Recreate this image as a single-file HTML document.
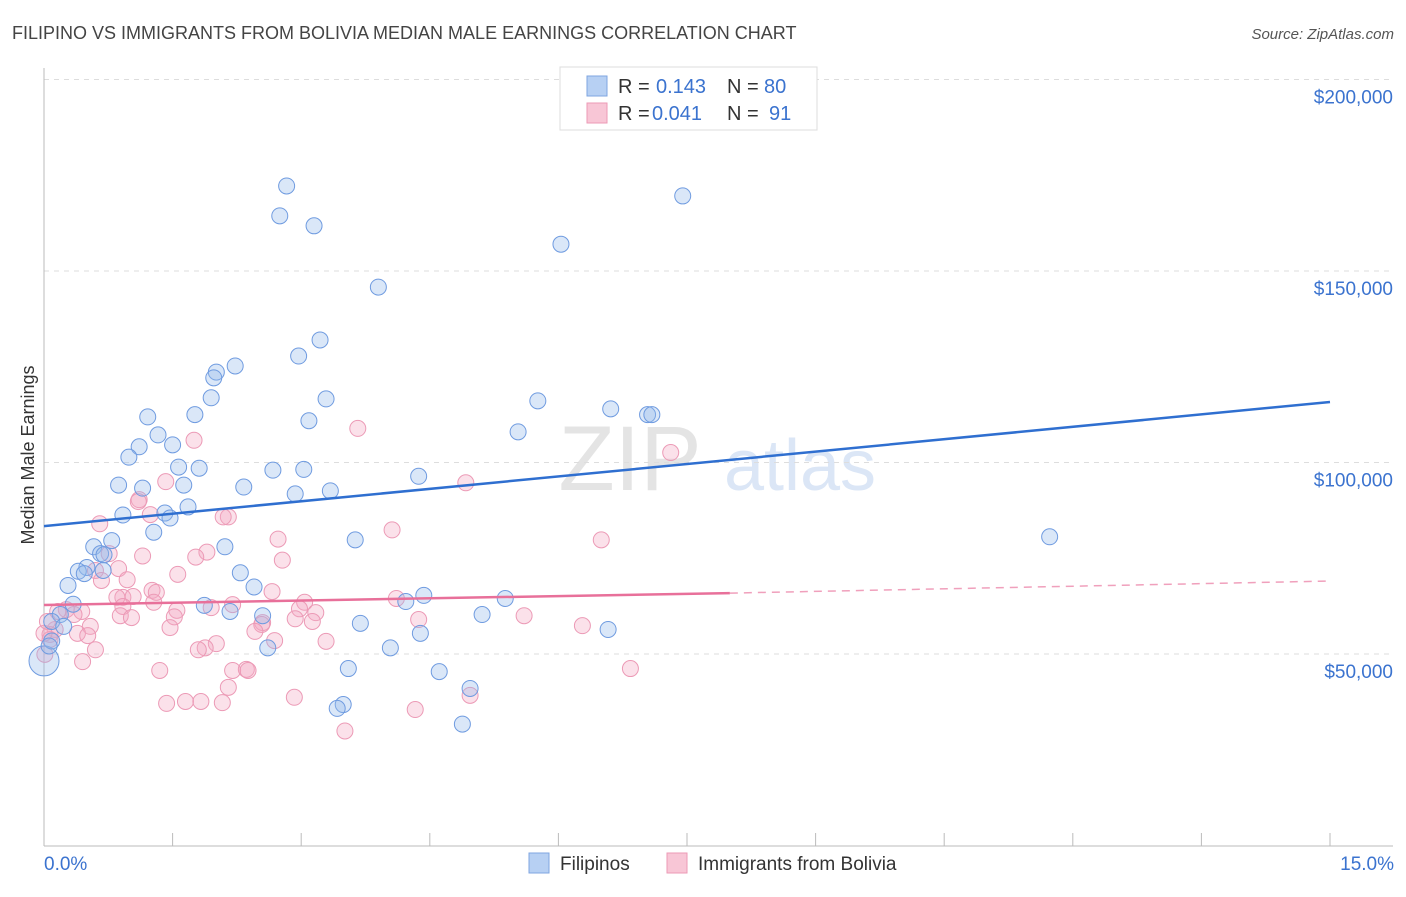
<!DOCTYPE html>
<html><head><meta charset="utf-8"><style>
body{margin:0;background:#fff;font-family:"Liberation Sans",sans-serif}
svg text{font-family:"Liberation Sans",sans-serif}
</style></head><body>
<svg id="chart" width="1406" height="892" viewBox="0 0 1406 892" xmlns="http://www.w3.org/2000/svg">
<text x="12" y="39" font-size="18" fill="#444">FILIPINO VS IMMIGRANTS FROM BOLIVIA MEDIAN MALE EARNINGS CORRELATION CHART</text>
<text x="1394" y="39" font-size="15" fill="#555" font-style="italic" text-anchor="end">Source: ZipAtlas.com</text>
<text transform="translate(34,455) rotate(-90)" font-size="18" fill="#333" text-anchor="middle">Median Male Earnings</text>
<g>
<text x="630" y="490" font-size="92" fill="#e4e4e4" font-family="Liberation Serif" text-anchor="middle">ZIP</text>
<text x="800" y="490" font-size="72" fill="#dbe6f6" text-anchor="middle">atlas</text>
</g>
<g id="grid"></g><g id="axes"></g><g id="pts"></g><g id="lines"></g>
<g>
<rect x="560" y="67" width="257" height="63" fill="#fff" stroke="#ddd"/>
<rect x="587" y="76" width="20" height="20" fill="#b7d0f3" stroke="#7fa6e0"/>
<rect x="587" y="103" width="20" height="20" fill="#f8c6d6" stroke="#ec9ab6"/>
<text x="618" y="93" font-size="20" fill="#333">R = </text><text x="656" y="93" font-size="20" fill="#3b73cf">0.143</text>
<text x="727" y="93" font-size="20" fill="#333">N = </text><text x="764" y="93" font-size="20" fill="#3b73cf">80</text>
<text x="618" y="120" font-size="20" fill="#333">R = </text><text x="652" y="120" font-size="20" fill="#3b73cf">0.041</text>
<text x="727" y="120" font-size="20" fill="#333">N = </text><text x="769" y="120" font-size="20" fill="#3b73cf">91</text>
</g>
<g>
<rect x="529" y="853" width="20" height="20" fill="#b7d0f3" stroke="#7fa6e0"/>
<text x="560" y="870" font-size="19" fill="#333">Filipinos</text>
<rect x="667" y="853" width="20" height="20" fill="#f8c6d6" stroke="#ec9ab6"/>
<text x="698" y="870" font-size="19" fill="#333">Immigrants from Bolivia</text>
</g>
</svg>
<script>
const yTicks=[50000,100000,150000,200000];
const yTickLabels=["$50,000","$100,000","$150,000","$200,000"];
const xTickLabels=["0.0%","15.0%"];
const blueX=[2.83,2.75,3.15,7.45,6.03,3.90,3.22,2.97,2.23,2.01,1.98,1.95,3.29,1.21,1.76,3.09,5.76,6.61,7.04,7.09,5.53,1.33,1.11,1.50,0.99,1.57,1.81,2.67,3.03,4.37,0.87,1.15,1.63,2.33,2.93,3.34,1.68,1.41,1.47,0.92,1.28,3.63,11.73,2.11,0.79,0.58,0.66,0.70,2.29,2.45,0.69,0.50,0.40,0.47,0.28,1.87,4.43,4.22,5.38,2.17,2.55,5.11,0.34,0.19,0.09,0.23,3.69,4.39,6.58,2.61,4.04,3.55,4.61,4.97,3.49,3.42,4.88,0.0,0.09,0.06];
const blueY=[172.2,164.4,161.8,169.6,157.0,145.8,132.0,127.8,125.2,123.6,122.1,116.9,116.6,111.9,112.5,110.9,116.1,114.0,112.5,112.5,108.0,107.2,104.1,104.6,101.4,98.8,98.5,98.0,98.2,96.4,94.1,93.3,94.1,93.6,91.8,92.6,88.4,86.8,85.5,86.3,81.8,79.8,80.6,78.0,79.6,78.0,76.2,75.9,71.2,67.5,71.8,72.6,71.6,71.0,67.9,62.7,65.3,63.7,64.5,61.1,60.0,60.3,63.0,60.3,58.5,57.2,58.0,55.4,56.4,51.6,51.6,46.2,45.4,41.0,36.8,35.8,31.7,48.2,53.4,52.1];
const pinkX=[1.75,3.66,7.31,4.92,1.42,1.11,1.10,1.24,2.15,2.09,0.65,4.06,6.50,2.73,0.76,1.15,1.90,1.77,2.78,0.87,1.56,0.60,0.67,0.97,1.26,1.31,2.66,1.28,0.92,1.04,0.85,0.92,2.20,4.11,3.04,1.95,1.55,3.17,1.52,2.98,0.44,0.26,0.35,0.16,0.89,1.02,2.93,4.37,5.60,2.55,3.13,0.54,0.13,0.07,0.39,0.51,1.47,2.54,2.46,6.28,2.69,3.29,2.01,1.88,1.80,0.60,0.07,0.01,0.45,1.35,2.20,2.36,2.38,6.84,2.15,2.92,1.65,1.43,1.83,2.08,4.33,4.97,3.51,0.0,0.04];
const pinkY=[105.8,108.9,102.6,94.7,95.0,90.3,89.8,86.4,85.8,85.8,84.0,82.4,79.8,80.0,76.2,75.6,76.6,75.3,74.5,72.3,70.8,71.8,69.2,69.4,66.6,66.1,66.3,63.5,64.8,65.0,64.8,62.4,62.9,64.5,63.5,62.1,61.4,60.8,59.7,61.8,61.1,61.6,60.3,61.1,60.0,59.5,59.2,59.0,60.0,58.2,58.5,57.2,56.4,55.1,55.4,54.8,56.9,57.7,55.9,57.4,53.5,53.3,52.7,51.6,51.1,51.1,53.8,49.9,48.0,45.7,45.7,46.0,45.7,46.2,41.3,38.7,37.6,37.1,37.6,37.3,35.5,39.2,29.9,55.4,58.5];
const blueTrend=[83.4,115.8];
const pinkTrend=[62.8,65.9,69.05];
const pinkSolidEnd=8.0;
const NS='http://www.w3.org/2000/svg';
const X=v=>44+v/15*1286;
const Y=v=>845.5-v/50*191.5; // v in thousands
function el(t,a,p){const e=document.createElementNS(NS,t);for(const k in a)e.setAttribute(k,a[k]);document.getElementById(p).appendChild(e);return e;}
yTicks.forEach((t,i)=>{
  const g=el('line',{x1:44,x2:1393,y1:Y(t/1000),y2:Y(t/1000),stroke:'#ddd','stroke-dasharray':'5,5'},'grid');
  
  
  const tx=el('text',{x:1393,y:Y(t/1000)+24,'font-size':19,fill:'#3b73cf','text-anchor':'end'},'axes');
  tx.textContent=yTickLabels[i];
  
  
});
const ax=el('line',{x1:44,x2:44,y1:68,y2:846,stroke:'#bbb'},'axes');


const bx=el('line',{x1:44,x2:1393,y1:846,y2:846,stroke:'#bbb'},'axes');


for(let i=0;i<=10;i++){const t=el('line',{x1:X(i*1.5),x2:X(i*1.5),y1:833,y2:846,stroke:'#bbb'},'axes');

}
xTickLabels.forEach((l,i)=>{const t=el('text',{x:i?1394:44,y:870,'font-size':19,fill:'#3b73cf','text-anchor':i?'end':'start'},'axes');t.textContent=l;

});
pinkX.forEach((x,i)=>{const c=el('circle',{cx:X(x),cy:Y(pinkY[i]),r:8,fill:'rgba(244,168,194,0.35)',stroke:'#ec9ab6','stroke-width':1},'pts');

});
blueX.forEach((x,i)=>{const c=el('circle',{cx:X(x),cy:Y(blueY[i]),r:i==77?15:8,fill:'rgba(150,185,235,0.35)',stroke:'#6f9be0','stroke-width':1},'pts');

});
const bl=el('line',{x1:X(0),y1:Y(blueTrend[0]),x2:X(15),y2:Y(blueTrend[1]),stroke:'#2f6fd0','stroke-width':2.5},'lines');


const pl=el('line',{x1:X(0),y1:Y(pinkTrend[0]),x2:X(pinkSolidEnd),y2:Y(pinkTrend[1]),stroke:'#e8709a','stroke-width':2.5},'lines');


const pd=el('line',{x1:X(pinkSolidEnd),y1:Y(pinkTrend[1]),x2:X(15),y2:Y(pinkTrend[2]),stroke:'#f0a0bc','stroke-width':1.5,'stroke-dasharray':'8,6'},'lines');


</script>
</body></html>
